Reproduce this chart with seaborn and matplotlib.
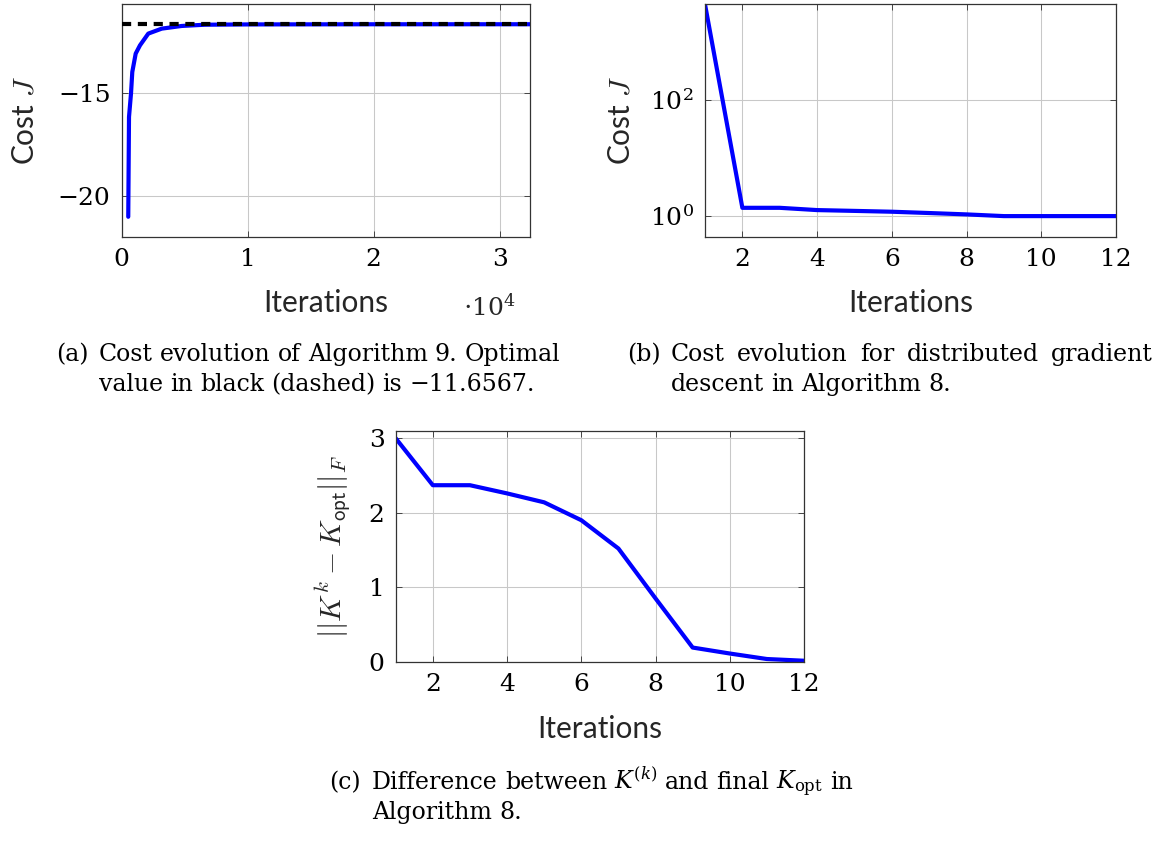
import math

import matplotlib
matplotlib.use("Agg")
import matplotlib.pyplot as plt
import matplotlib.transforms as mtransforms
from matplotlib.ticker import FixedLocator, FuncFormatter, NullLocator
import seaborn as sns

# ---- data -------------------------------------------------------------
# Algorithm 9: cost J versus iteration count
alg9_iter = [520, 580, 740, 840, 1110, 1450, 2110, 3175, 4760, 6610, 10000, 20000, 32400]
alg9_cost = [-20.99, -16.15, -15.0, -13.97, -13.08, -12.68, -12.11, -11.87,
             -11.74, -11.68, -11.665, -11.658, -11.657]
j_opt = -11.6567

# Algorithm 8: distributed gradient descent
gd_iter = [1, 2, 3, 4, 5, 6, 7, 8, 9, 10, 11, 12]
gd_cost = [4470, 1.39, 1.39, 1.27, 1.23, 1.19, 1.13, 1.07, 1.0, 1.0, 1.0, 1.0]
gd_knorm = [3.0, 2.37, 2.37, 2.26, 2.14, 1.90, 1.52, 0.85, 0.19, 0.11, 0.036, 0.013]

# tick labels
a_xticks = [0, 10000, 20000, 30000]
a_yticks = [-20, -15]
k_ticks = [2, 4, 6, 8, 10, 12]
b_yticks = [1, 100]
c_yticks = [0, 1, 2, 3]

# ---- style ------------------------------------------------------------
sns.set_theme(style="whitegrid")
plt.rcParams["font.family"] = ["DejaVu Serif"]
plt.rcParams["mathtext.fontset"] = "dejavuserif"
plt.rcParams["axes.unicode_minus"] = True

W, H = 1170, 841
fig = plt.figure(figsize=(W / 100, H / 100), dpi=100)
fig.patch.set_facecolor("white")


def axes_px(left, top, right, bottom):
    return fig.add_axes([left / W, 1 - bottom / H, (right - left) / W, (bottom - top) / H])


axA = axes_px(121.7, 4.3, 530, 237)
axB = axes_px(705, 4.3, 1116, 237)
axC = axes_px(395.7, 430.7, 804, 662.3)

BLUE = "#0000ff"
LABEL_KW = dict(fontfamily="Lato", fontsize=21.5)


def style(ax):
    ax.set_facecolor("white")
    ax.grid(True, which="major", color="#c8c8c8", linewidth=0.75)
    for s in ax.spines.values():
        s.set_visible(True)
        s.set_color("#333333")
        s.set_linewidth(0.9)
    ax.tick_params(which="major", direction="in", length=4.5, width=0.7,
                   color="#444444", top=True, right=True, bottom=True, left=True,
                   labelsize=18, pad=8, labelcolor="black")
    ax.tick_params(which="minor", length=0)
    ax.set_axisbelow(True)


# ---- (a) ----------------------------------------------------------------
sns.lineplot(x=alg9_iter, y=alg9_cost, ax=axA, color=BLUE, linewidth=3,
             estimator=None, sort=False, zorder=3)
axA.axhline(j_opt, color="black", linewidth=3, linestyle=(0, (2.2, 1.6)), zorder=4)
axA.set_xlim(0, 32400)
axA.set_ylim(-21.97, -10.69)
axA.xaxis.set_major_locator(FixedLocator(a_xticks))
axA.xaxis.set_major_formatter(FuncFormatter(lambda v, p: f"{v / 1e4:.0f}"))
axA.yaxis.set_major_locator(FixedLocator(a_yticks))
style(axA)
axA.text(0.8996, -0.339, r"$\cdot 10^{4}$", transform=axA.transAxes,
         ha="center", va="baseline", fontsize=18)

# ---- (b) ----------------------------------------------------------------
sns.lineplot(x=gd_iter, y=gd_cost, ax=axB, color=BLUE, linewidth=3,
             estimator=None, sort=False)
axB.set_yscale("log")
axB.set_xlim(1, 12)
axB.set_ylim(10 ** -0.36, 10 ** 3.65)
axB.xaxis.set_major_locator(FixedLocator(k_ticks))
axB.yaxis.set_major_locator(FixedLocator(b_yticks))
axB.yaxis.set_minor_locator(NullLocator())
axB.yaxis.set_major_formatter(
    FuncFormatter(lambda v, p: rf"$10^{{{int(round(math.log10(v)))}}}$"))
style(axB)

# ---- (c) ----------------------------------------------------------------
sns.lineplot(x=gd_iter, y=gd_knorm, ax=axC, color=BLUE, linewidth=3,
             estimator=None, sort=False)
axC.set_xlim(1, 12)
axC.set_ylim(-0.008, 3.102)
axC.xaxis.set_major_locator(FixedLocator(k_ticks))
axC.yaxis.set_major_locator(FixedLocator(c_yticks))
style(axC)

# ---- axis labels ----------------------------------------------------------
for ax, ylab, ylx, xly in [
    (axA, r"Cost $J$", -0.217, -0.321),
    (axB, r"Cost $J$", -0.1825, -0.321),
    (axC, r"$||K^k - K_{\mathsf{opt}}||_F$", -0.1315, -0.327),
]:
    ax.set_xlabel("Iterations", **LABEL_KW)
    ax.xaxis.set_label_coords(0.5, xly)
    ax.xaxis.label.set_verticalalignment("baseline")
    ax.set_ylabel(ylab, **LABEL_KW)
    ax.yaxis.label.set_math_fontfamily("cm")
    ax.yaxis.set_label_coords(ylx, 0.5)
    ax.yaxis.label.set_verticalalignment("baseline")

# ---- captions -------------------------------------------------------------
CAP_KW = dict(fontfamily="DejaVu Serif", fontsize=17, math_fontfamily="dejavuserif",
              color="black")
renderer = fig.canvas.get_renderer()
ident = mtransforms.IdentityTransform()


def caption_line(words, x0, y, x1=None):
    texts = [fig.text(0, H - y, w, transform=ident, ha="left", va="baseline", **CAP_KW)
             for w in words]
    widths = [t.get_window_extent(renderer).width for t in texts]
    if x1 is not None and len(words) > 1:
        gap = (x1 - x0 - sum(widths)) / (len(words) - 1)
    else:
        gap = CAP_KW["fontsize"] * 0.3 * 100 / 72
    x = x0
    for t, w in zip(texts, widths):
        t.set_x(x)
        x += w + gap


def caption(tag, line1, line2, x_tag, x_text, x_end, y1, y2):
    caption_line([tag], x_tag, y1)
    caption_line(line1.split(" "), x_text, y1, x_end)
    caption_line(line2.split(" "), x_text, y2)


caption("(a)", "Cost evolution of Algorithm 9. Optimal",
        "value in black (dashed) is \u221211.6567.", 56, 99, 560, 361, 391)
caption("(b)", "Cost evolution for distributed gradient",
        "descent in Algorithm 8.", 627, 671, 1153, 361, 391)
caption("(c)", r"Difference between $K^{(k)}$ and final $K_{\mathrm{opt}}$ in",
        "Algorithm 8.", 329, 372, 853, 789, 819)

fig.savefig("out.png", dpi=100, facecolor="white")
